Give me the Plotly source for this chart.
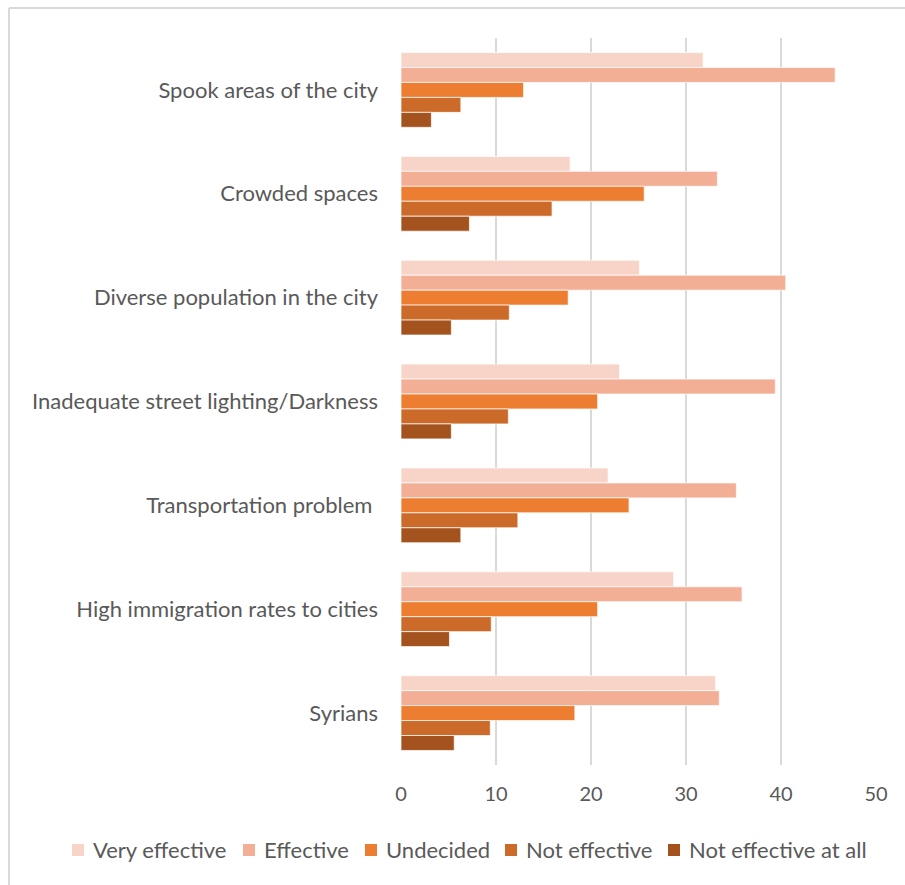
import plotly.graph_objects as go

# Survey factors (top to bottom) and share of responses (%) for each rating
factors = [
    "Spook areas of the city",
    "Crowded spaces",
    "Diverse population in the city",
    "Inadequate street lighting/Darkness",
    "Transportation problem ",
    "High immigration rates to cities",
    "Syrians",
]
very_effective = [31.8, 17.8, 25.1, 23.0, 21.8, 28.7, 33.1]
effective = [45.7, 33.3, 40.5, 39.4, 35.3, 35.9, 33.5]
undecided = [12.9, 25.6, 17.6, 20.7, 24.0, 20.7, 18.3]
not_effective = [6.3, 15.9, 11.4, 11.3, 12.3, 9.5, 9.4]
not_effective_at_all = [3.2, 7.2, 5.3, 5.3, 6.3, 5.1, 5.6]

series = [
    ("Very effective", very_effective, "#F8D4C8"),
    ("Effective", effective, "#F2AF96"),
    ("Undecided", undecided, "#ED7D31"),
    ("Not effective", not_effective, "#CC6A29"),
    ("Not effective at all", not_effective_at_all, "#A4521E"),
]

FONT = "Lato"
TEXT = "#595959"
GRID = "#D9D9D9"

fig = go.Figure()
for name, vals, color in series:
    fig.add_trace(go.Bar(
        name=name, y=factors, x=vals, orientation="h", showlegend=False,
        marker=dict(color=color, line=dict(color="rgba(255,255,255,0.7)", width=1)),
    ))

W, H = 905, 885
L, R, T, B = 401, 29, 38, 120
pw, ph = W - L - R, H - T - B

def px(x):
    return (x - L) / pw

def py(y):
    return (H - B - y) / ph

# chart frame (top and left edges)
frame = [
    dict(x0=px(9), x1=px(920), y0=py(8), y1=py(8)),
    dict(x0=px(9), x1=px(9), y0=py(8), y1=py(900)),
]
shapes = [dict(type="line", xref="paper", yref="paper", layer="below",
               line=dict(color=GRID, width=2), **s) for s in frame]

# legend row below the axis: colour swatch followed by its label
legend_left = [72, 243, 365, 505, 668]
legend_mid = 850
swatch = 12
annotations = []
for (name, _, color), x0 in zip(series, legend_left):
    shapes.append(dict(type="rect", xref="paper", yref="paper",
                       x0=px(x0), x1=px(x0 + swatch),
                       y0=py(legend_mid - swatch / 2), y1=py(legend_mid + swatch / 2),
                       fillcolor=color, line=dict(width=0)))
    annotations.append(dict(text=name, xref="paper", yref="paper",
                            x=px(x0 + swatch + 7), y=py(legend_mid),
                            xanchor="left", yanchor="middle", showarrow=False,
                            font=dict(family=FONT, size=22, color=TEXT)))

fig.update_layout(
    width=W, height=H,
    margin=dict(l=L, r=R, t=T, b=B, pad=0),
    paper_bgcolor="white", plot_bgcolor="white",
    barmode="group", bargap=0.28, bargroupgap=0,
    font=dict(family=FONT, size=20, color=TEXT),
    xaxis=dict(range=[0, 50], dtick=10, showgrid=True, gridcolor=GRID, gridwidth=2,
               zeroline=False, showline=False, ticks="", ticklabelstandoff=15,
               tickfont=dict(family=FONT, size=20, color=TEXT)),
    yaxis=dict(autorange="reversed", showgrid=False, zeroline=False, showline=False,
               ticks="", ticklabelstandoff=22,
               tickfont=dict(family=FONT, size=22, color=TEXT)),
    shapes=shapes,
    annotations=annotations,
)

fig.write_html("out.html")
